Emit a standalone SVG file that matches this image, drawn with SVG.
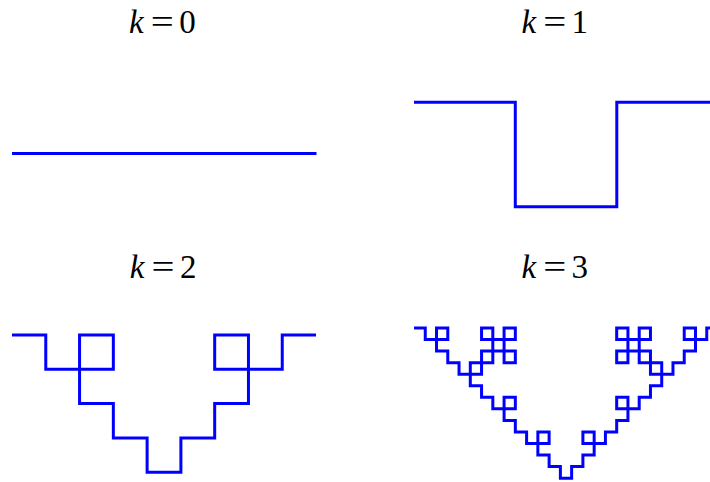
<svg xmlns="http://www.w3.org/2000/svg" width="710" height="482" viewBox="0 0 710 482">
<style>
.c{fill:none;stroke:#0000ff;stroke-width:3;stroke-linejoin:miter;stroke-linecap:butt}
.t{font-family:"Liberation Serif","Times New Roman",serif;font-size:33px;fill:#000}
.i{font-style:italic}
</style>
<rect width="710" height="482" fill="#fff"/>
<g id="k0">
<text class="t i" x="129" y="33">k</text>
<text class="t" x="150.8" y="33" textLength="23" lengthAdjust="spacingAndGlyphs">=</text>
<text class="t" x="179.2" y="33">0</text>
<path class="c" d="M12,153.5H316.5"/>
</g>
<g id="k1">
<text class="t i" x="521.4" y="33">k</text>
<text class="t" x="543.2" y="33" textLength="23" lengthAdjust="spacingAndGlyphs">=</text>
<text class="t" x="571.4" y="33">1</text>
<path class="c" d="M414,102.3h101.3v104.4h101.5v-104.4h101.3"/>
</g>
<g id="k2">
<text class="t i" x="129.7" y="278.3">k</text>
<text class="t" x="151.5" y="278.3" textLength="23" lengthAdjust="spacingAndGlyphs">=</text>
<text class="t" x="179.9" y="278.3">2</text>
<path class="c" d="M12,335h33.78v34.3h33.78v-34.3h33.78v34.3h-33.78v34.3h33.78v34.3h33.78v34.3h33.78v-34.3h33.78v-34.3h33.78v-34.3h-33.78v-34.3h33.78v34.3h33.78v-34.3h33.78"/>
</g>
<g id="k3">
<text class="t i" x="521.4" y="278">k</text>
<text class="t" x="543.2" y="278" textLength="23" lengthAdjust="spacingAndGlyphs">=</text>
<text class="t" x="571.6" y="278">3</text>
<path class="c" d="M414,328
h11.26v11.55h11.26v-11.55h11.26
v11.55h-11.26v11.55h11.26v11.55
h11.26v11.55h11.26v-11.55h11.26
v-11.55h11.26v-11.55h-11.26v-11.55
h11.26v11.55h11.26v-11.55h11.26
v11.55h-11.26v11.55h11.26v11.55
h-11.26v-11.55h-11.26v11.55h-11.26
v11.55h-11.26v11.55h11.26v11.55
h11.26v11.55h11.26v-11.55h11.26
v11.55h-11.26v11.55h11.26v11.55
h11.26v11.55h11.26v-11.55h11.26
v11.55h-11.26v11.55h11.26v11.55
h11.26v11.55h11.26v-11.55h11.26
v-11.55h11.26v-11.55h-11.26v-11.55
h11.26v11.55h11.26v-11.55h11.26
v-11.55h11.26v-11.55h-11.26v-11.55
h11.26v11.55h11.26v-11.55h11.26
v-11.55h11.26v-11.55h-11.26v-11.55
h-11.26v-11.55h-11.26v11.55h-11.26
v-11.55h11.26v-11.55h-11.26v-11.55
h11.26v11.55h11.26v-11.55h11.26
v11.55h-11.26v11.55h11.26v11.55
h11.26v11.55h11.26v-11.55h11.26
v-11.55h11.26v-11.55h-11.26v-11.55
h11.26v11.55h11.26v-11.55h11.26"/>
</g>
</svg>
